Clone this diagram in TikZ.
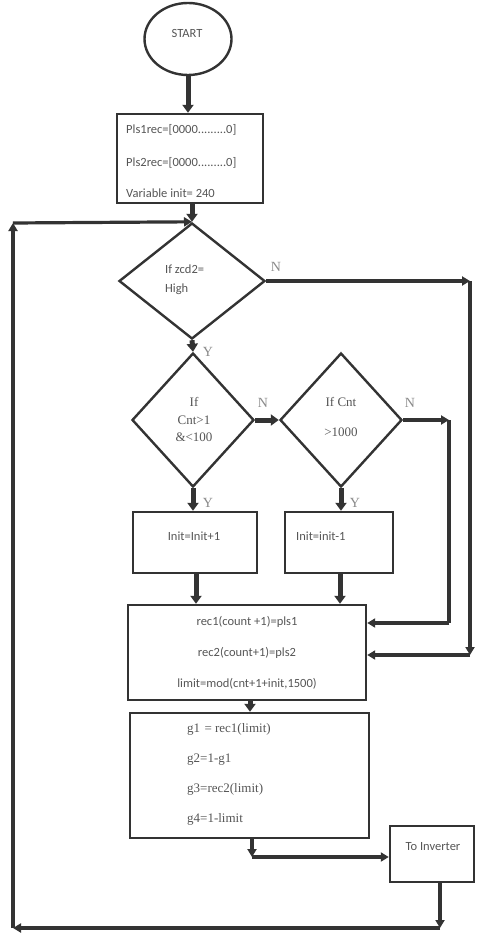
\documentclass[tikz,border=0pt]{standalone}
\usepackage{fontspec}
\setmainfont{Carlito}
\newfontfamily\serifx{Liberation Serif}
\usetikzlibrary{shapes.geometric,arrows.meta}
\definecolor{ln}{HTML}{333333}
\definecolor{tx}{HTML}{555555}
\definecolor{lb}{HTML}{8A8A8A}
\tikzset{
  box/.style={draw=ln,line width=2.4pt,rectangle,inner sep=0pt},
  dia/.style={draw=ln,line width=2.4pt,diamond,inner sep=0pt},
  conn/.style={draw=ln,line width=3.2pt,-{Triangle[length=8pt,width=9pt]}},
  fat/.style={draw=ln,line width=5pt,-{Triangle[length=8pt,width=11pt]}},
  plain/.style={draw=ln,line width=3.2pt},
  txt/.style={text=tx,font=\fontsize{12.5}{14}\selectfont,inner sep=0pt},
  stxt/.style={text=tx,font=\serifx\fontsize{13}{15}\selectfont,inner sep=0pt},
  yn/.style={text=lb,font=\serifx\fontsize{14}{15}\selectfont,inner sep=0pt}
}
\begin{document}
\begin{tikzpicture}[x=1pt,y=-1pt]
\useasboundingbox (0,0) rectangle (476,933);
% nodes
\node[draw=ln,line width=2.4pt,ellipse,minimum width=87pt,minimum height=72pt,inner sep=0pt] (start) at (188,39) {};
\node[txt] (starttxt) at (187,33) {START};
\node[box,minimum width=146pt,minimum height=89pt] (b1) at (190,158.5) {};
\node[txt,anchor=west] (t11) at (126,130) {Pls1rec=[0000.........0]};
\node[txt,anchor=west] (t12) at (126,163) {Pls2rec=[0000.........0]};
\node[txt,anchor=west] (t13) at (126,193) {Variable init= 240};
\node[dia,minimum width=146pt,minimum height=116pt] (d1) at (192,281) {};
\node[txt,anchor=west] (t21) at (165,269) {If zcd2=};
\node[txt,anchor=west] (t22) at (165,289) {High};
\node[dia,minimum width=122pt,minimum height=134pt] (d2) at (193,420) {};
\node[stxt] (t31) at (194,402) {If};
\node[stxt] (t32) at (194,420) {Cnt>1};
\node[stxt] (t33) at (194,437) {\&<100};
\node[dia,minimum width=122pt,minimum height=134pt] (d3) at (341,420) {};
\node[stxt] (t41) at (341,402) {If Cnt};
\node[stxt] (t42) at (341,432) {>1000};
\node[box,minimum width=124pt,minimum height=61pt] (b2a) at (195,542.5) {};
\node[txt] (t51) at (194,536) {Init=Init+1};
\node[box,minimum width=108pt,minimum height=61pt] (b2b) at (339,542.5) {};
\node[txt,anchor=west] (t52) at (296,536) {Init=init-1};
\node[box,minimum width=238pt,minimum height=95pt] (b3) at (247,652.5) {};
\node[txt] (t61) at (247,622) {rec1(count +1)=pls1};
\node[txt] (t62) at (247,653) {rec2(count+1)=pls2};
\node[txt] (t63) at (247,684) {limit=mod(cnt+1+init,1500)};
\node[box,minimum width=239pt,minimum height=125pt] (b4) at (249.5,775.5) {};
\node[stxt,anchor=west] (t71) at (187,729) {g1\,\,= rec1(limit)};
\node[stxt,anchor=west] (t72) at (187,760) {g2=1-g1};
\node[stxt,anchor=west] (t73) at (187,789) {g3=rec2(limit)};
\node[stxt,anchor=west] (t74) at (187,819) {g4=1-limit};
\node[box,minimum width=84pt,minimum height=56pt] (inv) at (432,854) {};
\node[txt] (t81) at (433,847) {To Inverter};
% labels
\node[yn] (n1) at (276,267) {N};
\node[yn] (n2) at (263,403) {N};
\node[yn] (n3) at (410,403) {N};
\node[yn] (y1) at (208,352) {Y};
\node[yn] (y2) at (208,503) {Y};
\node[yn] (y3) at (355,503) {Y};
% coordinates
\coordinate (r1) at (470,281);
\coordinate (r1b) at (470,655);
\coordinate (r2) at (449,420);
\coordinate (r2b) at (449,623);
\coordinate (s1) at (252,857);
\coordinate (q1) at (440,928);
\coordinate (q2) at (13,928);
\coordinate (q3) at (13,223);
% connectors
\draw[fat] (start.south) -- (b1.north -| start.south);
\draw[fat] (b1.south -| d1.north) -- (d1.north);
\draw[fat] (d1.south) -- (d2.north);
\draw[conn] (d1.east) -- (r1);
\draw[conn] (r1) -- (r1b);
\draw[conn] (r1b) -- (r1b -| b3.east);
\draw[fat] (d2.east) -- (d3.west);
\draw[conn] (d3.east) -- (r2);
\draw[plain] (r2) -- (r2b);
\draw[conn] (r2b) -- (r2b -| b3.east);
\draw[fat] (d2.south) -- (d2.south |- b2a.north);
\draw[fat] (d3.south) -- (d3.south |- b2b.north);
\draw[fat] (b2a.south -| 196,0) -- (b3.north -| 196,0);
\draw[fat] (b2b.south -| 340,0) -- (b3.north -| 340,0);
\draw[fat] (b3.south -| 250,0) -- (b4.north -| 250,0);
\draw[conn] (b4.south -| s1) -- (s1);
\draw[conn] (s1) -- (s1 -| inv.west);
\draw[conn] (inv.south -| q1) -- (q1);
\draw[conn] (q1) -- (q2);
\draw[conn] (q2) -- (q3);
\draw[conn] (q3) -- (d1.north);
\end{tikzpicture}
\end{document}
